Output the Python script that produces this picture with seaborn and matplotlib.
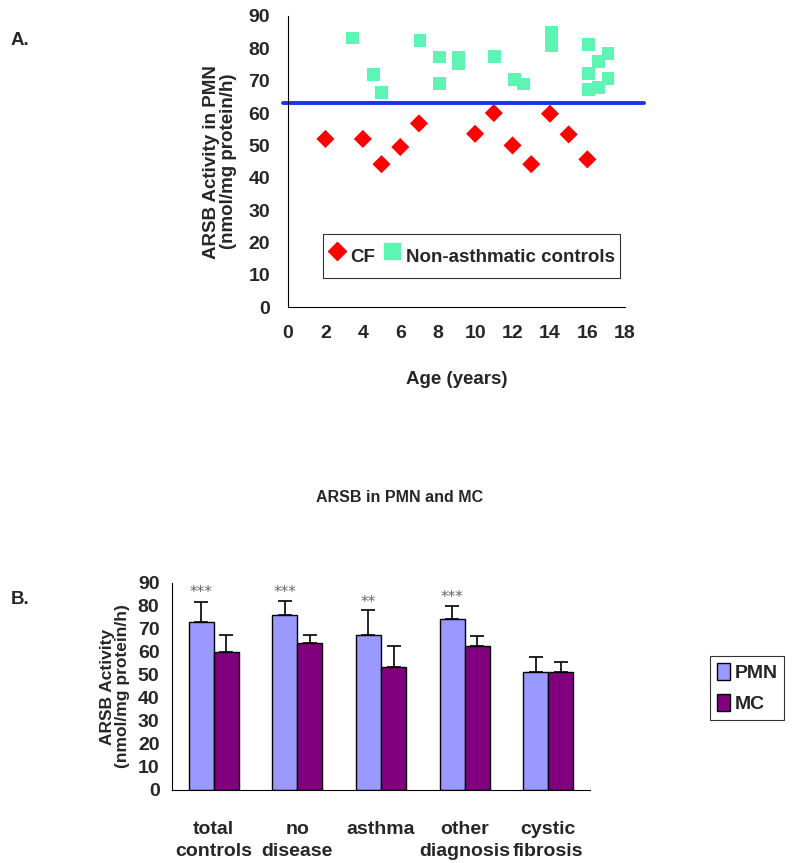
import numpy as np
import pandas as pd
import matplotlib
matplotlib.use("Agg")
import matplotlib.pyplot as plt
import seaborn as sns
from matplotlib.patches import Patch
from matplotlib.lines import Line2D

# panel A: ARSB activity in PMN vs age
cf_age = [2, 4, 5, 6, 7, 10, 11, 12, 13, 14, 15, 16]
cf_arsb = [52, 52, 44.2, 49.5, 56.8, 53.6, 60, 50, 44.2, 59.8, 53.4, 45.7]
ctrl_age = [3.45, 4.55, 5.0, 7.05, 8.1, 8.1, 9.1, 9.1, 11.05, 12.1, 12.6,
            14.1, 14.1, 16.05, 16.05, 16.05, 16.6, 16.6, 17.1, 17.1]
ctrl_arsb = [83.2, 71.9, 66.4, 82.3, 77.3, 69.2, 77.3, 75.2, 77.4, 70.4, 69.0,
             85.0, 80.9, 81.3, 72.3, 67.3, 76.0, 68.0, 78.3, 70.8]
cutoff = 63

# panel B: ARSB in PMN and MC by group
groups = ["total\ncontrols", "no\ndisease", "asthma", "other\ndiagnosis", "cystic\nfibrosis"]
pmn_mean = [73.0, 76.2, 67.5, 74.2, 51.5]
pmn_se = [8.7, 6.1, 10.7, 5.8, 6.1]
mc_mean = [60.1, 63.7, 53.6, 62.7, 51.5]
mc_se = [7.4, 3.8, 9.2, 4.2, 4.2]
stars = ["***", "***", "**", "***", ""]
star_y = [86, 86, 81.5, 83.5, 0]

CF_COL = "#FF0000"
CTRL_COL = "#5CF5B4"
PMN_COL = "#9999FF"
MC_COL = "#800080"

sns.set_style("white")
plt.rcParams['font.family'] = ['Liberation Sans', 'DejaVu Sans']

fig = plt.figure(figsize=(8, 8.63), dpi=100)

# ---------- A ----------
axA = fig.add_axes([0.36, 0.644, 0.421, 0.3375])
df_a = pd.DataFrame({
    "age": cf_age + ctrl_age,
    "arsb": cf_arsb + ctrl_arsb,
    "grp": ["CF"] * len(cf_age) + ["Non-asthmatic controls"] * len(ctrl_age),
})
sns.scatterplot(data=df_a, x="age", y="arsb", hue="grp", style="grp",
                markers={"CF": "D", "Non-asthmatic controls": "s"},
                palette={"CF": CF_COL, "Non-asthmatic controls": CTRL_COL},
                s=100, linewidth=0, legend=False, ax=axA, zorder=3)
# diamonds smaller than squares, as in the original
for coll, sz in zip(axA.collections, [85, 215]):
    coll.set_sizes([sz])
axA.axhline(cutoff, xmin=-0.015, xmax=1.057, color="#1A33E6", lw=2.8,
            clip_on=False, zorder=2)
axA.set_xlim(0, 18)
axA.set_ylim(0, 90)
axA.set_xticks(range(0, 19, 2))
axA.set_yticks(range(0, 91, 10))
sns.despine(ax=axA)
for sp in ["left", "bottom"]:
    axA.spines[sp].set_color("black")
    axA.spines[sp].set_linewidth(0.8)
axA.tick_params(axis="both", direction="out", length=5, width=0.8, color="black",
                labelsize=14, pad=8)
for t in axA.get_xticklabels() + axA.get_yticklabels():
    t.set_fontweight("bold")
axA.set_xlabel("Age (years)", fontsize=13.5, fontweight="bold", labelpad=21)
axA.set_ylabel("ARSB Activity in PMN\n(nmol/mg protein/h)", fontsize=13.5,
               fontweight="bold", labelpad=8, linespacing=1.0)
handles_a = [
    Line2D([], [], marker="D", color=CF_COL, ls="", markersize=9),
    Line2D([], [], marker="s", color=CTRL_COL, ls="", markersize=12),
]
legA = axA.legend(handles_a, ["CF", "Non-asthmatic controls"], ncol=2,
                  loc="center", bbox_to_anchor=(0.5445, 0.175),
                  frameon=True, fancybox=False, edgecolor="black",
                  handletextpad=0.25, columnspacing=0.5, handlelength=0.9,
                  handleheight=2.3, borderpad=0.3,
                  prop={"weight": "bold", "size": 13.5})
legA.get_frame().set_linewidth(0.8)

# ---------- B ----------
axB = fig.add_axes([0.215, 0.0846, 0.5225, 0.2399])
df_b = pd.DataFrame({
    "group": groups * 2,
    "value": pmn_mean + mc_mean,
    "cell": ["PMN"] * len(groups) + ["MC"] * len(groups),
})
sns.barplot(data=df_b, x="group", y="value", hue="cell", order=groups,
            hue_order=["PMN", "MC"], palette={"PMN": PMN_COL, "MC": MC_COL},
            saturation=1, width=0.6, errorbar=None, edgecolor="black",
            linewidth=1.0, legend=False, ax=axB, zorder=2)
for cont, se in zip(axB.containers, [pmn_se, mc_se]):
    xs = [b.get_x() + b.get_width() / 2 for b in cont]
    ys = [b.get_height() for b in cont]
    axB.errorbar(xs, ys, yerr=[np.zeros(len(se)), se], fmt="none", ecolor="black",
                 elinewidth=1.2, capsize=5, capthick=1.2, zorder=3)
for b, s, y in zip(axB.containers[0], stars, star_y):
    if s:
        axB.text(b.get_x() + b.get_width() / 2, y, s, ha="center", va="center",
                 fontsize=11, color="#666666", family="DejaVu Sans")
axB.set_xlim(-0.5, len(groups) - 0.5)
axB.set_ylim(0, 90)
axB.set_yticks(range(0, 91, 10))
axB.set_xticks(np.arange(-0.5, len(groups), 1.0), minor=True)
sns.despine(ax=axB)
for sp in ["left", "bottom"]:
    axB.spines[sp].set_color("black")
    axB.spines[sp].set_linewidth(0.8)
axB.tick_params(axis="x", which="major", length=0, pad=22)
axB.tick_params(axis="x", which="minor", direction="out", length=6, width=0.8, color="black")
axB.tick_params(axis="y", direction="out", length=5, width=0.8, color="black", pad=4)
for t in axB.get_xticklabels() + axB.get_yticklabels():
    t.set_fontweight("bold")
    t.set_fontsize(14)
for t in axB.get_xticklabels():
    t.set_linespacing(1.45)
axB.set_xlabel("")
axB.set_ylabel("ARSB Activity\n(nmol/mg protein/h)", fontsize=12.5, fontweight="bold",
               labelpad=6, linespacing=1.0)
handles_b = [Patch(facecolor=PMN_COL, edgecolor="black"),
             Patch(facecolor=MC_COL, edgecolor="black")]
legB = fig.legend(handles_b, ["PMN", "MC"], loc="center",
                  bbox_to_anchor=(0.934, 0.203), frameon=True, fancybox=False,
                  edgecolor="black", handlelength=0.7, handleheight=1.0,
                  handletextpad=0.2, labelspacing=0.6, borderpad=0.35,
                  borderaxespad=0, prop={"weight": "bold", "size": 14})
legB.get_frame().set_linewidth(0.8)

fig.text(0.5, 0.424, "ARSB in PMN and MC", ha="center", va="center",
         fontsize=11.5, fontweight="bold")
fig.text(0.013, 0.953, "A.", fontsize=13.5, fontweight="bold", va="center")
fig.text(0.013, 0.305, "B.", fontsize=13.5, fontweight="bold", va="center")

fig.savefig("out.png", dpi=100)
